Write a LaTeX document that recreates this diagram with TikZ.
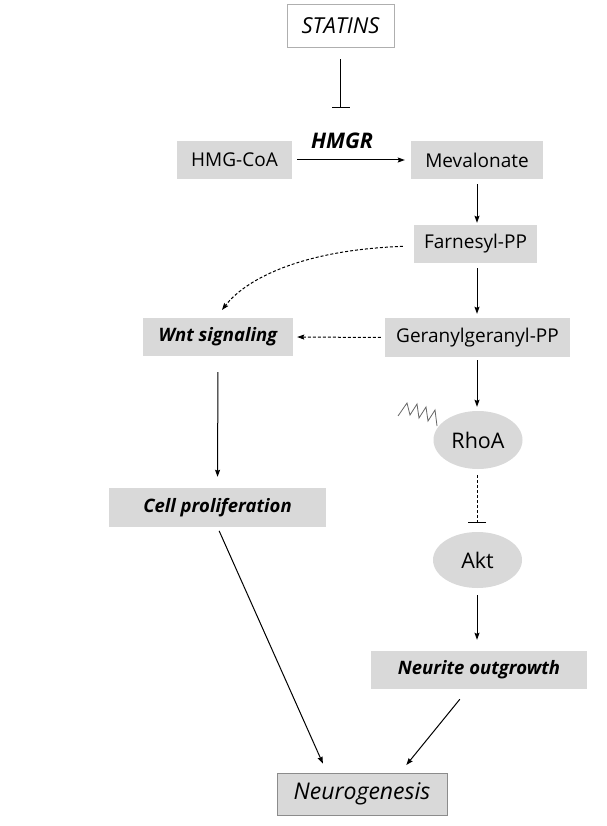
\documentclass[tikz,border=0pt]{standalone}
\usepackage{fontspec}
\setmainfont{Open Sans}
\usetikzlibrary{shapes.geometric,arrows.meta,calc}
\begin{document}
\begin{tikzpicture}[x=1pt,y=1pt,
  box/.style={fill=boxgray,draw=none,minimum height=38pt,inner sep=0pt,font=\fontsize{19}{22}\selectfont},
  bibox/.style={box,font=\fontsize{18.5}{22}\selectfont\bfseries\itshape},
  oval/.style={ellipse,fill=boxgray,draw=none,inner sep=0pt,font=\fontsize{21.5}{25}\selectfont},
  arr/.style={line width=1pt,-{Stealth[length=7pt,width=5pt,inset=1pt]}},
  darr/.style={arr,dash pattern=on 3pt off 2pt},
  inh/.style={line width=1pt,-{Bar[width=18pt,line width=1pt]}},
  dinh/.style={inh,dash pattern=on 3pt off 2pt}
]
\definecolor{boxgray}{HTML}{D9D9D9}
\definecolor{edgegray}{HTML}{8C8C8C}
\useasboundingbox (0,0) rectangle (606,-826);
\fill[white] (0,0) rectangle (606,-826);

\node[draw=edgegray!70,fill=white,minimum width=107pt,minimum height=43pt,inner sep=0pt,font=\fontsize{22}{26}\selectfont\itshape] (st) at (340.5,-25.5) {STATINS};
\node[inner sep=0pt,font=\fontsize{21.5}{25}\selectfont\bfseries\itshape] (hmgr) at (342,-141) {HMGR};
\node[box,minimum width=115pt] (hmg) at (234.5,-160) {HMG-CoA};
\node[box,minimum width=132pt] (mev) at (477,-160) {Mevalonate};
\node[box,minimum width=123pt] (far) at (475.5,-244) {Farnesyl-PP};
\node[box,minimum width=185pt,minimum height=39pt] (ger) at (477.5,-337.5) {Geranylgeranyl-PP};
\node[bibox,minimum width=150pt] (wnt) at (218,-337) {Wnt signaling};
\node[oval,minimum width=89pt,minimum height=58pt] (rho) at (478,-440) {RhoA};
\node[oval,minimum width=89pt,minimum height=56pt] (akt) at (477.5,-560) {Akt};
\node[bibox,minimum width=217pt,minimum height=39pt] (cell) at (217.5,-507.5) {Cell proliferation};
\node[bibox,minimum width=216pt] (neu) at (479,-670) {Neurite outgrowth};
\node[box,draw=edgegray,minimum width=170pt,minimum height=42pt,font=\fontsize{23}{27}\selectfont\itshape] (ng) at (362,-794) {Neurogenesis};

\draw[inh,shorten <=12pt] (st.south) -- ($(st.south)+(0,-61)$);
\draw[arr,shorten <=5pt,shorten >=6pt] (hmg.east) -- (mev.west);
\draw[arr,shorten <=5pt,shorten >=2pt] (mev.south) -- (mev.south |- far.north);
\draw[arr,shorten <=5pt,shorten >=4pt] (mev.south |- far.south) -- (mev.south |- ger.north);
\draw[arr,shorten <=3pt,shorten >=4pt] (mev.south |- ger.south) -- (mev.south |- rho.north);
\draw[dinh,shorten <=6pt,shorten >=9pt] (mev.south |- rho.south) -- (mev.south |- akt.north);
\draw[arr,shorten <=7pt,shorten >=11pt] (mev.south |- akt.south) -- (mev.south |- neu.north);
\draw[darr,shorten <=4pt,shorten >=4pt] (ger.west) -- (wnt.east);
\draw[darr,shorten <=11pt] ($(far.west)+(0,-2)$) .. controls (300,-250) and (245,-280) .. (222,-310);
\draw[arr,shorten <=16pt,shorten >=11pt] (wnt.south) -- (cell.north);
\draw[arr,shorten <=4pt,shorten >=10pt] (cell.south) -- ($(ng.north)+(-35,0)$);
\draw[arr,shorten <=13pt,shorten >=10pt] ($(neu.south)+(-11,0)$) -- ($(ng.north)+(38,0)$);
\draw[black!60,line width=0.8pt] (398,-416) -- (407,-403) -- (410,-415) -- (417,-404) -- (419,-418) -- (426,-407) -- (428,-421) -- (435,-410) -- (437,-426);
\end{tikzpicture}
\end{document}
